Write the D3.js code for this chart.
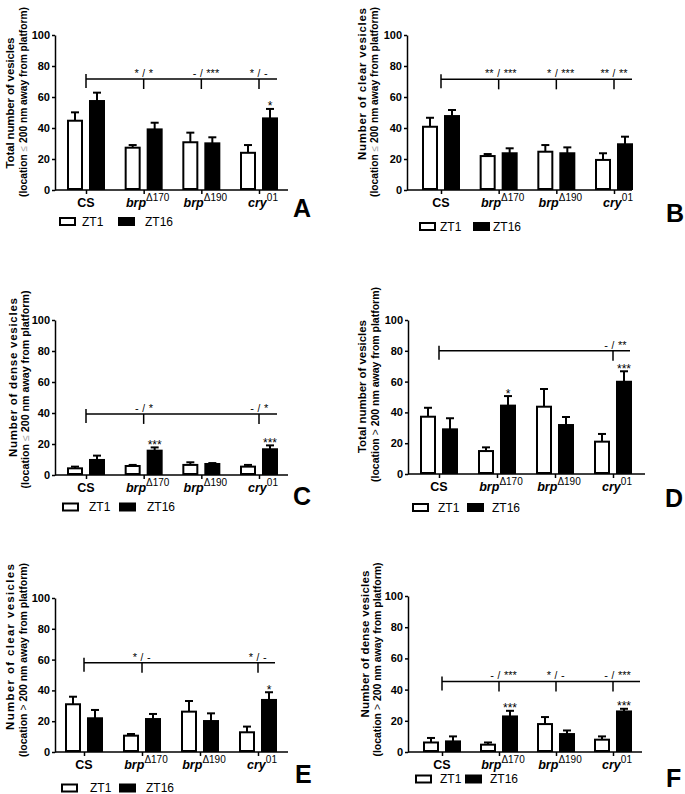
<!DOCTYPE html>
<html><head><meta charset="utf-8">
<script src="https://cdn.jsdelivr.net/npm/d3@7"></script>
<style>
body{margin:0;background:#fff}
svg{display:block}
text{font-family:"Liberation Sans",Arial,Helvetica,sans-serif;fill:#000}
</style>
</head><body>
<svg id="chart" width="685" height="794"></svg>
<script>
// ---------------- DATA ----------------
const categories = ["CS", "brpΔ170", "brpΔ190", "cry01"];
const catBase = ["CS", "brp", "brp", "cry"];
const catSup = ["", "Δ170", "Δ190", "01"];
const series = ["ZT1", "ZT16"];
const yTicks = [0, 20, 40, 60, 80, 100];

// Panel A: total vesicles, <= 200 nm
const A_ZT1 = [44.7, 27.3, 30.8, 24.0];
const A_ZT1_sem = [5.4, 1.7, 6.2, 5.0];
const A_ZT16 = [57.4, 39.1, 30.1, 46.2];
const A_ZT16_sem = [5.4, 4.3, 3.9, 6.1];
const A_stars = ["", "", "", "*"];
const A_sig = ["", "* / *", "- / ***", "* / -"];
const A_sigLevel = 71.6;

// Panel B: clear vesicles, <= 200 nm
const B_ZT1 = [40.8, 21.9, 24.7, 19.4];
const B_ZT1_sem = [5.8, 1.3, 4.3, 4.3];
const B_ZT16 = [47.7, 23.7, 23.7, 29.5];
const B_ZT16_sem = [3.9, 3.2, 3.8, 4.9];
const B_stars = ["", "", "", ""];
const B_sig = ["", "** / ***", "* / ***", "** / **"];
const B_sigLevel = 71.4;

// Panel C: dense vesicles, <= 200 nm
const C_ZT1 = [4.3, 5.8, 6.5, 5.4];
const C_ZT1_sem = [1.1, 0.7, 1.7, 1.1];
const C_ZT16 = [9.7, 15.7, 7.1, 16.6];
const C_ZT16_sem = [2.8, 2.1, 0.6, 2.5];
const C_stars = ["", "***", "", "***"];
const C_sig = ["", "- / *", "", "- / *"];
const C_sigLevel = 39.4;

// Panel D: total vesicles, > 200 nm
const D_ZT1 = [37.2, 14.9, 43.7, 21.0];
const D_ZT1_sem = [5.8, 2.4, 11.5, 5.0];
const D_ZT16 = [29.0, 44.4, 31.8, 59.9];
const D_ZT16_sem = [7.2, 6.2, 5.2, 6.8];
const D_stars = ["", "*", "", "***"];
const D_sig = ["", "", "", "- / **"];
const D_sigLevel = 80;

// Panel E: clear vesicles, > 200 nm
const E_ZT1 = [31.0, 10.6, 26.2, 12.8];
const E_ZT1_sem = [4.9, 1.1, 6.9, 3.7];
const E_ZT16 = [21.9, 21.4, 20.1, 33.8];
const E_ZT16_sem = [5.4, 3.3, 5.0, 5.0];
const E_stars = ["", "", "", "*"];
const E_sig = ["", "* / -", "", "* / -"];
const E_sigLevel = 58;

// Panel F: dense vesicles, > 200 nm
const F_ZT1 = [6.1, 4.7, 17.9, 7.9];
const F_ZT1_sem = [2.9, 1.4, 4.5, 2.1];
const F_ZT16 = [6.8, 22.8, 11.5, 26.0];
const F_ZT16_sem = [3.2, 3.6, 2.3, 1.7];
const F_stars = ["", "***", "", "***"];
const F_sig = ["", "- / ***", "* / -", "- / ***"];
const F_sigLevel = 45.2;

const titlesA = ["Total number of vesicles", "(location ", "≤", " 200 nm away from platform)"];
const titlesB = ["Number of clear vesicles", "(location ", "≤", " 200 nm away from platform)"];
const titlesC = ["Number of dense vesicles", "(location ", "≤", " 200 nm away from platform)"];
const titlesD = ["Total number of vesicles", "(location ", ">", " 200 nm away from platform)"];
const titlesE = ["Number of clear vesicles", "(location ", ">", " 200 nm away from platform)"];
const titlesF = ["Number of dense vesicles", "(location ", ">", " 200 nm away from platform)"];

// ---------------- LAYOUT ----------------
const panels = [
  {id:"A", zt1:A_ZT1, zt1s:A_ZT1_sem, zt16:A_ZT16, zt16s:A_ZT16_sem, stars:A_stars, sig:A_sig, sigLevel:A_sigLevel, titles:titlesA,
   ax:55, y0:190, y1:35, xEnd:288, c0:86, c3:259, sigEnd:277,
   leg:{b1:59, t1:82, b2:118, t2:145, y:221.5},
   letter:{x:293, y:217},
   t1:{x:10, y:103, len:131}, t2:{x:23, y:102, len:190}},
  {id:"B", zt1:B_ZT1, zt1s:B_ZT1_sem, zt16:B_ZT16, zt16s:B_ZT16_sem, stars:B_stars, sig:B_sig, sigLevel:B_sigLevel, titles:titlesB,
   ax:407, y0:190, y1:35, xEnd:632, c0:441, c3:614, sigEnd:632,
   leg:{b1:419, t1:440, b2:473, t2:493, y:226.5},
   letter:{x:666, y:222},
   t1:{x:362, y:84, len:152}, t2:{x:374, y:102, len:190}},
  {id:"C", zt1:C_ZT1, zt1s:C_ZT1_sem, zt16:C_ZT16, zt16s:C_ZT16_sem, stars:C_stars, sig:C_sig, sigLevel:C_sigLevel, titles:titlesC,
   ax:55, y0:475, y1:320, xEnd:288, c0:86, c3:259, sigEnd:277,
   leg:{b1:62, t1:89, b2:119, t2:147, y:507},
   letter:{x:293, y:505},
   t1:{x:13, y:377.5, len:159}, t2:{x:25, y:389.5, len:198}},
  {id:"D", zt1:D_ZT1, zt1s:D_ZT1_sem, zt16:D_ZT16, zt16s:D_ZT16_sem, stars:D_stars, sig:D_sig, sigLevel:D_sigLevel, titles:titlesD,
   ax:408, y0:474, y1:320, xEnd:645, c0:439, c3:613, sigEnd:630,
   leg:{b1:412, t1:438, b2:467, t2:492, y:507.5},
   letter:{x:665, y:507},
   t1:{x:362, y:386.5, len:133}, t2:{x:375, y:384.5, len:195}},
  {id:"E", zt1:E_ZT1, zt1s:E_ZT1_sem, zt16:E_ZT16, zt16s:E_ZT16_sem, stars:E_stars, sig:E_sig, sigLevel:E_sigLevel, titles:titlesE,
   ax:55, y0:752, y1:598, xEnd:288, c0:84, c3:258, sigEnd:275,
   leg:{b1:61, t1:90, b2:119, t2:146, y:788},
   letter:{x:295, y:783},
   t1:{x:10, y:647, len:166}, t2:{x:23, y:660, len:194}},
  {id:"F", zt1:F_ZT1, zt1s:F_ZT1_sem, zt16:F_ZT16, zt16s:F_ZT16_sem, stars:F_stars, sig:F_sig, sigLevel:F_sigLevel, titles:titlesF,
   ax:408, y0:752, y1:596, xEnd:642, c0:442, c3:613, sigEnd:640,
   leg:{b1:415, t1:440, b2:465, t2:490, y:779},
   letter:{x:666, y:787},
   t1:{x:365, y:644, len:147}, t2:{x:377, y:659.5, len:194}}
];

const svg = d3.select("#chart");

panels.forEach(p => {
  const g = svg.append("g");
  const y = d3.scaleLinear().domain([0, 100]).range([p.y0, p.y1]);
  const x = d3.scalePoint().domain(categories).range([p.c0, p.c3]);
  const sub = d3.scaleBand().domain(series).range([-18, 18]).paddingInner(0.3636);

  // Y axis
  const ya = g.append("g").attr("transform", `translate(${p.ax},0)`)
    .call(d3.axisLeft(y).tickValues(yTicks).tickSize(3).tickSizeOuter(0).tickPadding(2));
  ya.select(".domain").attr("stroke", "#000").attr("stroke-width", 1.5);
  ya.selectAll(".tick line").attr("stroke", "#000").attr("stroke-width", 1.5);
  ya.selectAll(".tick text").attr("font-size", 11).attr("font-weight", "bold")
    .attr("font-family", '"Liberation Sans",Arial,sans-serif').attr("fill", "#000");

  // X axis
  const xa = g.append("g").attr("transform", `translate(0,${p.y0})`)
    .call(d3.axisBottom(x).tickSize(4).tickSizeOuter(0).tickFormat(""));
  xa.select(".domain").remove();
  xa.selectAll(".tick line").attr("stroke", "#000").attr("stroke-width", 1.5);
  g.append("line").attr("x1", p.ax).attr("x2", p.xEnd).attr("y1", p.y0).attr("y2", p.y0)
    .attr("stroke", "#000").attr("stroke-width", 1.5);

  // Category labels
  categories.forEach((c, i) => {
    const t = g.append("text").attr("x", x(c) + (catSup[i] ? 4 : 0)).attr("y", p.y0 + 17)
      .attr("text-anchor", "middle").attr("font-size", 12.5).attr("font-weight", "bold");
    t.append("tspan").text(catBase[i]).attr("font-style", catSup[i] ? "italic" : "normal");
    if (catSup[i]) t.append("tspan").text(catSup[i]).attr("font-size", 10).attr("font-weight", "normal").attr("dy", -6);
  });

  // Bars
  const rows = [];
  categories.forEach((c, i) => {
    rows.push({c, s: "ZT1", v: p.zt1[i], e: p.zt1s[i], star: ""});
    rows.push({c, s: "ZT16", v: p.zt16[i], e: p.zt16s[i], star: p.stars[i]});
  });
  const bw = sub.bandwidth();
  rows.forEach(r => {
    const bx = x(r.c) + sub(r.s);
    const cx = bx + bw / 2;
    g.append("line").attr("x1", cx).attr("x2", cx).attr("y1", y(r.v)).attr("y2", y(r.v + r.e))
      .attr("stroke", "#000").attr("stroke-width", 2);
    g.append("line").attr("x1", cx - 4).attr("x2", cx + 4).attr("y1", y(r.v + r.e)).attr("y2", y(r.v + r.e))
      .attr("stroke", "#000").attr("stroke-width", 2);
    g.append("rect").attr("x", bx).attr("y", y(r.v)).attr("width", bw).attr("height", p.y0 - y(r.v) - 1)
      .attr("fill", r.s === "ZT1" ? "#fff" : "#000").attr("stroke", "#000").attr("stroke-width", 2);
    if (r.star) {
      g.append("text").attr("x", cx).attr("y", y(r.v + r.e) + 1.5).attr("text-anchor", "middle")
        .attr("font-size", 12).text(r.star);
    }
  });

  // Significance bracket
  const ly = y(p.sigLevel);
  g.append("line").attr("x1", x(categories[0])).attr("x2", p.sigEnd).attr("y1", ly).attr("y2", ly)
    .attr("stroke", "#000").attr("stroke-width", 1.5);
  g.append("line").attr("x1", x(categories[0])).attr("x2", x(categories[0])).attr("y1", ly - 5).attr("y2", ly + 9)
    .attr("stroke", "#000").attr("stroke-width", 1.5);
  categories.forEach((c, i) => {
    if (!p.sig[i]) return;
    const cx = x(c);
    g.append("line").attr("x1", cx).attr("x2", cx).attr("y1", ly).attr("y2", ly + 10)
      .attr("stroke", "#000").attr("stroke-width", 1.5);
    const parts = p.sig[i].split("/");
    g.append("text").attr("x", cx - 5).attr("y", ly - 2).attr("text-anchor", "end").attr("font-size", 11).text(parts[0].trim());
    g.append("text").attr("x", cx).attr("y", ly - 2).attr("text-anchor", "middle").attr("font-size", 10).text("/");
    g.append("text").attr("x", cx + 5).attr("y", ly - 2).attr("text-anchor", "start").attr("font-size", 11).text(parts[1].trim());
  });

  // Legend
  const L = p.leg;
  g.append("rect").attr("x", L.b1 + 1).attr("y", L.y - 3.5).attr("width", 15).attr("height", 7)
    .attr("fill", "#fff").attr("stroke", "#000").attr("stroke-width", 2);
  g.append("text").attr("x", L.t1).attr("y", L.y).attr("dominant-baseline", "central")
    .attr("font-size", 12).attr("fill", "#222").text(series[0]);
  g.append("rect").attr("x", L.b2 + 1).attr("y", L.y - 3.5).attr("width", 15).attr("height", 7)
    .attr("fill", "#000").attr("stroke", "#000").attr("stroke-width", 2);
  g.append("text").attr("x", L.t2).attr("y", L.y).attr("dominant-baseline", "central")
    .attr("font-size", 12).attr("fill", "#222").text(series[1]);

  // Panel letter
  g.append("text").attr("x", p.letter.x).attr("y", p.letter.y).attr("font-size", 25)
    .attr("font-weight", "bold").text(p.id);

  // Y titles
  g.append("text").attr("transform", `translate(${p.t1.x},${p.t1.y}) rotate(-90)`)
    .attr("text-anchor", "middle").attr("dominant-baseline", "central")
    .attr("font-size", 11.5).attr("font-weight", "bold")
    .attr("textLength", p.t1.len).attr("lengthAdjust", "spacing").text(p.titles[0]);
  const t2 = g.append("text").attr("transform", `translate(${p.t2.x},${p.t2.y}) rotate(-90)`)
    .attr("text-anchor", "middle").attr("dominant-baseline", "central")
    .attr("font-size", 10.2).attr("font-weight", "bold")
    .attr("textLength", p.t2.len).attr("lengthAdjust", "spacingAndGlyphs");
  t2.append("tspan").text(p.titles[1]);
  t2.append("tspan").text(p.titles[2]).attr("fill", p.titles[2] === "≤" ? "#999" : "#000").attr("font-weight", "normal");
  t2.append("tspan").text(p.titles[3]);
});
</script>
</body></html>
